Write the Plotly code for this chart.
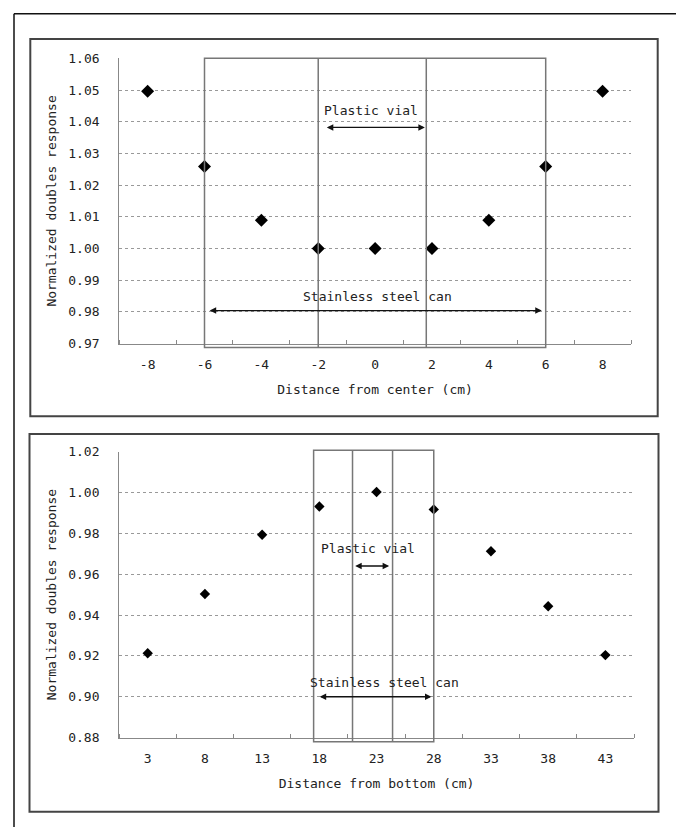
import plotly.graph_objects as go

# ---------------- data ----------------
center_x = [-8, -6, -4, -2, 0, 2, 4, 6, 8]
center_resp = [1.0496, 1.0259, 1.0089, 1.0000, 1.0000, 1.0000, 1.0089, 1.0259, 1.0496]

bottom_x = [3, 8, 13, 18, 23, 28, 33, 38, 43]
bottom_resp = [0.9213, 0.9503, 0.9793, 0.9931, 1.0002, 0.9917, 0.9712, 0.9443, 0.9204]

# container extents (data units of each chart)
top_can = (-6, 6)
top_vial = (-2, 1.8)
top_vial_arrow = (-1.75, 1.75, 1.0382)
top_can_arrow = (-5.87, 5.86, 0.9804)

bot_can = (17.5, 28)
bot_vial = (20.9, 24.4)
bot_vial_arrow = (21.0, 24.1, 0.964)
bot_can_arrow = (17.9, 27.8, 0.900)

W, H = 676, 835
FONT = "DejaVu Sans Mono"
TXT = "#222222"
FS = 13

def px(x):
    return x / W

def py(y):
    return 1 - y / H

fig = go.Figure()
fig.add_trace(go.Scatter(x=center_x, y=center_resp, mode="markers",
                         marker=dict(symbol="diamond", size=10, color="black"),
                         xaxis="x", yaxis="y", showlegend=False))
fig.add_trace(go.Scatter(x=bottom_x, y=bottom_resp, mode="markers",
                         marker=dict(symbol="diamond", size=8, color="black"),
                         xaxis="x2", yaxis="y2", showlegend=False))

ax_common = dict(showline=True, linecolor="#888888", linewidth=1, zeroline=False,
                 tickfont=dict(family=FONT, size=FS, color=TXT), fixedrange=True)

top_dom_x = [px(119.2), px(631)]
top_dom_y = [py(342.7), py(52.3)]
bot_dom_x = [px(119.1), px(634)]
bot_dom_y = [py(744), py(452.7)]

fig.update_layout(
    width=W, height=H, margin=dict(l=0, r=0, t=0, b=0),
    paper_bgcolor="white", plot_bgcolor="white",
    font=dict(family=FONT, size=FS, color=TXT),
    showlegend=False,
    xaxis=dict(domain=top_dom_x, anchor="y", range=[-9, 9], tickmode="array",
               tickvals=center_x, ticktext=[str(v) for v in center_x], ticks="",
               showgrid=False, ticklabelstandoff=9,
               minor=dict(tickmode="linear", tick0=-9, dtick=2, ticks="inside",
                          ticklen=4, tickcolor="#888888", showgrid=False),
               title=dict(text="Distance from center (cm)", standoff=13,
                          font=dict(family=FONT, size=FS, color=TXT)),
               **ax_common),
    yaxis=dict(domain=top_dom_y, anchor="x", range=[0.97, 1.06], dtick=0.01,
               tick0=0.97, tickformat=".2f", ticks="", showgrid=True,
               gridcolor="#999999", griddash="3px,3px", gridwidth=1,
               ticklabelstandoff=16,
               title=dict(text="Normalized doubles response", standoff=8,
                          font=dict(family=FONT, size=FS, color=TXT)),
               **ax_common),
    xaxis2=dict(domain=bot_dom_x, anchor="y2", range=[0.5, 45.5], tickmode="array",
                tickvals=bottom_x, ticktext=[str(v) for v in bottom_x], ticks="",
                showgrid=False, ticklabelstandoff=9,
                minor=dict(tickmode="linear", tick0=0.5, dtick=5, ticks="inside",
                           ticklen=4, tickcolor="#888888", showgrid=False),
                title=dict(text="Distance from bottom (cm)", standoff=13,
                           font=dict(family=FONT, size=FS, color=TXT)),
                **ax_common),
    yaxis2=dict(domain=bot_dom_y, anchor="x2", range=[0.88, 1.02], dtick=0.02,
                tick0=0.88, tickformat=".2f", ticks="", showgrid=True,
                gridcolor="#999999", griddash="3px,3px", gridwidth=1,
                ticklabelstandoff=16,
                title=dict(text="Normalized doubles response", standoff=8,
                           font=dict(family=FONT, size=FS, color=TXT)),
                **ax_common),
)

shapes = []
# outer page frame (cropped on right and bottom)
shapes.append(dict(type="line", xref="paper", yref="paper", x0=px(14), x1=px(14),
                   y0=py(835), y1=py(7), line=dict(color="#111111", width=1.5)))
shapes.append(dict(type="line", xref="paper", yref="paper", x0=px(14), x1=px(676),
                   y0=py(7), y1=py(7), line=dict(color="#111111", width=1.5)))
# chart frames
shapes.append(dict(type="rect", xref="paper", yref="paper", x0=px(30.3), x1=px(657.7),
                   y0=py(416.7), y1=py(32.7), line=dict(color="#444444", width=2)))
shapes.append(dict(type="rect", xref="paper", yref="paper", x0=px(29.5), x1=px(658.5),
                   y0=py(819.5), y1=py(434.7), line=dict(color="#444444", width=2)))

BOX = dict(color="#777777", width=1.5)
top_ext = -4 / (342.7 - 52.3)
shapes.append(dict(type="rect", xref="x", yref="y domain", x0=top_can[0], x1=top_can[1],
                   y0=top_ext, y1=1, line=BOX))
for xv in top_vial:
    shapes.append(dict(type="line", xref="x", yref="y domain", x0=xv, x1=xv,
                       y0=top_ext, y1=1, line=BOX))
bot_ext = -4.3 / (744 - 452.7)
shapes.append(dict(type="rect", xref="x2", yref="y2 domain", x0=bot_can[0], x1=bot_can[1],
                   y0=bot_ext, y1=1.005, line=BOX))
for xv in bot_vial:
    shapes.append(dict(type="line", xref="x2", yref="y2 domain", x0=xv, x1=xv,
                       y0=bot_ext, y1=1.005, line=BOX))
fig.update_layout(shapes=shapes)

def dbl_arrow(xr, yr, x0, x1, y):
    return dict(xref=xr, yref=yr, axref=xr, ayref=yr, x=x1, y=y, ax=x0, ay=y,
                text="", showarrow=True, arrowside="end+start", arrowhead=2,
                startarrowhead=2, arrowsize=1, startarrowsize=1, arrowwidth=1.3,
                arrowcolor="#111111")

def label(xr, yr, x, y, t):
    return dict(xref=xr, yref=yr, x=x, y=y, text=t, showarrow=False,
                font=dict(family=FONT, size=FS, color=TXT), xanchor="center",
                yanchor="middle")

anns = [
    dbl_arrow("x", "y", *top_vial_arrow),
    dbl_arrow("x", "y", *top_can_arrow),
    label("x", "y", -0.15, 1.0436, "Plastic vial"),
    label("x", "y", 0.10, 0.9849, "Stainless steel can"),
    dbl_arrow("x2", "y2", *bot_vial_arrow),
    dbl_arrow("x2", "y2", *bot_can_arrow),
    label("x2", "y2", 22.27, 0.9724, "Plastic vial"),
    label("x2", "y2", 23.67, 0.9068, "Stainless steel can"),
]
fig.update_layout(annotations=anns)

fig.write_html(
    "out.html",
    config={"displayModeBar": False, "staticPlot": True},
    post_script=(
        "document.body.style.margin='0';document.body.style.padding='0';"
        "document.body.style.overflow='hidden';"
        "var d=document.getElementById('{plot_id}');"
        "d.style.position='absolute';d.style.top='0px';d.style.left='0px';"
    ),
)
